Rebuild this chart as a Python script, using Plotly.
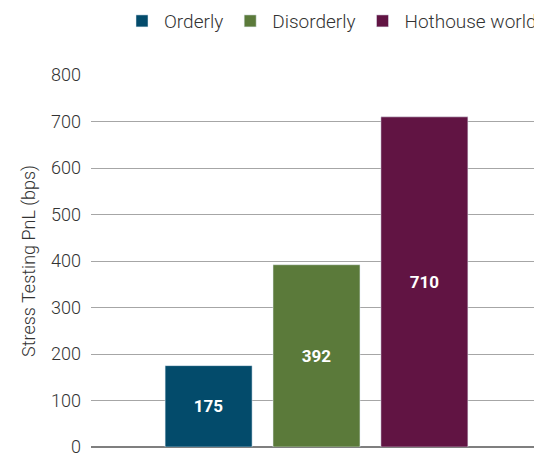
import plotly.graph_objects as go

escenarios = ['Orderly', 'Disorderly', 'Hothouse world']
pnl_bps = [175, 392, 710]
colores = ['#034B6B', '#5B7A3A', '#611443']

FUENTE = 'Roboto'

# la página añade 8px de margen al body: se compensa en los márgenes
fig = go.Figure()

for esc, val, col in zip(escenarios, pnl_bps, colores):
    fig.add_trace(go.Bar(
        x=[esc],
        y=[val],
        name=esc,
        marker_color=col,
        width=0.806,
        text=[str(val)],
        textposition='inside',
        insidetextanchor='middle',
        textfont=dict(family=FUENTE, size=17, color='white', weight='bold'),
        textangle=0,
    ))

fig.update_layout(
    width=542,
    height=456,
    margin=dict(l=83, r=8, t=67, b=17, autoexpand=False),
    plot_bgcolor='white',
    paper_bgcolor='white',
    barmode='overlay',
    font=dict(family=FUENTE, size=18, color='#333333', weight=300),
    showlegend=True,
    legend=dict(
        orientation='h',
        x=1.0, xanchor='right',
        y=1.145, yanchor='middle',
        font=dict(family=FUENTE, size=19, color='#333333', weight=300),
        itemwidth=34,
        traceorder='normal',
    ),
    xaxis=dict(
        range=[-1.09, 3.09],
        showticklabels=False,
        showgrid=False,
        zeroline=False,
        showline=False,
        ticks='',
        automargin=False,
    ),
    yaxis=dict(
        range=[0, 800],
        tickvals=[0, 100, 200, 300, 400, 500, 600, 700, 800],
        showgrid=True,
        gridcolor='#a6a6a6',
        gridwidth=1,
        zeroline=True,
        zerolinecolor='#7f7f7f',
        zerolinewidth=2,
        showline=False,
        ticks='',
        ticklabelstandoff=9,
        automargin=False,
        title=dict(text='Stress Testing PnL (bps)', standoff=10,
                   font=dict(family=FUENTE, size=18, color='#333333', weight=300)),
    ),
)

fig.write_html("out.html")
